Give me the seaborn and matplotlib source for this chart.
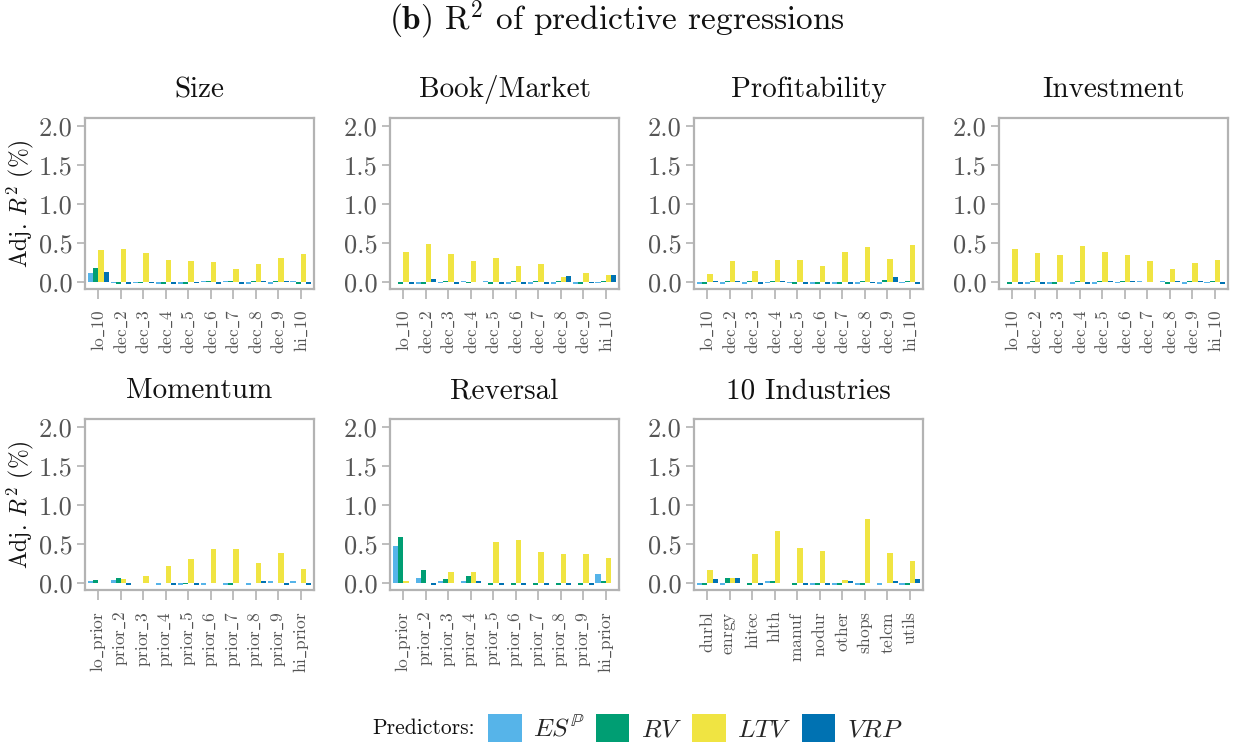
import numpy as np
import pandas as pd
import matplotlib
matplotlib.use("Agg")
import matplotlib.pyplot as plt
from matplotlib.patches import Patch
import seaborn as sns

predictors = ["ES", "RV", "LTV", "VRP"]
pred_labels = [r"$ES^{\mathbb{P}}$", r"$RV$", r"$LTV$", r"$VRP$"]
colors = ["#56B4E9", "#009E73", "#F0E442", "#0072B2"]

deciles = ["lo_10", "dec_2", "dec_3", "dec_4", "dec_5", "dec_6", "dec_7", "dec_8", "dec_9", "hi_10"]
priors = ["lo_prior", "prior_2", "prior_3", "prior_4", "prior_5", "prior_6", "prior_7", "prior_8", "prior_9", "hi_prior"]
industries = ["durbl", "enrgy", "hitec", "hlth", "manuf", "nodur", "other", "shops", "telcm", "utils"]

# Size
size_es  = [0.11, -0.01, -0.01, -0.02, -0.02, 0.01, 0.015, -0.02, -0.02, 0.01]
size_rv  = [0.18, -0.025, -0.01, -0.02, -0.02, 0.01, 0.015, 0.01, 0.01, -0.02]
size_ltv = [0.41, 0.42, 0.37, 0.28, 0.27, 0.25, 0.16, 0.23, 0.31, 0.36]
size_vrp = [0.125, -0.025, -0.01, -0.02, -0.01, -0.02, -0.02, 0.01, 0.01, -0.02]
# Book/Market
bm_es  = [0.005, -0.02, -0.01, 0.015, 0.015, -0.02, -0.02, -0.02, -0.02, -0.01]
bm_rv  = [-0.025, -0.02, 0.01, -0.01, -0.02, 0.01, 0.01, 0.01, -0.025, 0.01]
bm_ltv = [0.39, 0.48, 0.355, 0.265, 0.31, 0.20, 0.23, 0.06, 0.11, 0.085]
bm_vrp = [-0.025, 0.035, -0.025, 0.005, -0.025, -0.025, -0.025, 0.075, -0.01, 0.09]
# Profitability
prof_es  = [-0.02, -0.02, -0.02, -0.01, -0.01, -0.02, -0.02, -0.02, -0.02, -0.01]
prof_rv  = [-0.025, 0.01, 0.01, 0.01, -0.02, -0.02, -0.02, 0.01, 0.02, 0.01]
prof_ltv = [0.10, 0.265, 0.14, 0.28, 0.28, 0.20, 0.38, 0.445, 0.29, 0.47]
prof_vrp = [0.01, 0.01, -0.02, 0.01, -0.02, -0.02, -0.02, -0.01, 0.06, -0.025]
# Investment
inv_es  = [0.005, -0.02, -0.02, -0.02, -0.02, -0.01, 0.01, 0.01, -0.02, -0.01]
inv_rv  = [-0.025, 0.01, -0.025, 0.01, 0.01, 0.01, 0.005, -0.02, 0.01, 0.01]
inv_ltv = [0.42, 0.37, 0.34, 0.46, 0.38, 0.34, 0.265, 0.16, 0.24, 0.28]
inv_vrp = [-0.02, -0.02, 0.005, -0.02, 0.01, 0.01, 0.005, 0.01, 0.01, -0.025]
# Momentum
mom_es  = [0.03, 0.04, 0.005, -0.03, -0.02, -0.03, -0.02, -0.03, 0.03, 0.02]
mom_rv  = [0.04, 0.07, 0.005, 0.005, -0.01, 0.005, -0.03, 0.005, 0.005, 0.005]
mom_ltv = [0.005, 0.055, 0.095, 0.22, 0.31, 0.43, 0.44, 0.26, 0.38, 0.18]
mom_vrp = [0.005, -0.03, 0.005, -0.02, -0.02, 0.005, 0.005, 0.02, -0.02, -0.02]
# Reversal
rev_es  = [0.47, 0.07, 0.02, 0.02, 0.005, 0.005, 0.005, 0.005, 0.005, 0.11]
rev_rv  = [0.59, 0.16, 0.055, 0.095, -0.02, -0.03, -0.02, -0.02, -0.03, 0.03]
rev_ltv = [0.02, 0.005, 0.145, 0.145, 0.52, 0.555, 0.40, 0.365, 0.365, 0.325]
rev_vrp = [0.005, -0.02, 0.005, 0.02, -0.02, -0.02, -0.03, -0.02, -0.02, 0.005]
# 10 Industries
ind_es  = [-0.03, -0.02, 0.005, 0.03, 0.005, -0.02, -0.02, -0.02, -0.03, -0.02]
ind_rv  = [-0.03, 0.07, -0.02, 0.02, -0.02, -0.03, -0.02, -0.02, 0.005, -0.02]
ind_ltv = [0.17, 0.07, 0.375, 0.67, 0.45, 0.41, 0.04, 0.82, 0.39, 0.285]
ind_vrp = [0.055, 0.07, -0.02, 0.005, -0.02, -0.02, 0.02, 0.005, 0.03, 0.055]

panels = [
    ("Size", deciles, [size_es, size_rv, size_ltv, size_vrp]),
    ("Book/Market", deciles, [bm_es, bm_rv, bm_ltv, bm_vrp]),
    ("Profitability", deciles, [prof_es, prof_rv, prof_ltv, prof_vrp]),
    ("Investment", deciles, [inv_es, inv_rv, inv_ltv, inv_vrp]),
    ("Momentum", priors, [mom_es, mom_rv, mom_ltv, mom_vrp]),
    ("Reversal", priors, [rev_es, rev_rv, rev_ltv, rev_vrp]),
    ("10 Industries", industries, [ind_es, ind_rv, ind_ltv, ind_vrp]),
]

sns.set_theme(style="white")
plt.rcParams["font.family"] = ["cmr10", "DejaVu Serif"]
plt.rcParams["mathtext.fontset"] = "cm"
plt.rcParams["axes.unicode_minus"] = False
plt.rcParams["axes.formatter.use_mathtext"] = True

W, H = 1233, 744
fig = plt.figure(figsize=(W / 100, H / 100), dpi=100)

lefts = [85, 390, 694, 999]
tops = [118, 419]
aw, ah = 229, 171
spine_col = "#b3b3b3"
tick_col = "#555555"


def mlabel(s):
    return r"$\mathrm{" + s.replace("_", r"\_") + "}$"


for i, (title, cats, vals) in enumerate(panels):
    r, c = divmod(i, 4)
    ax = fig.add_axes([lefts[c] / W, 1 - (tops[r] + ah) / H, aw / W, ah / H])
    df = pd.DataFrame({
        "cat": [cat for cat in cats for _ in predictors],
        "pred": [p for _ in cats for p in predictors],
        "val": [vals[k][j] for j in range(len(cats)) for k in range(4)],
    })
    sns.barplot(data=df, x="cat", y="val", hue="pred", hue_order=predictors,
                palette=colors, width=0.93, saturation=1, legend=False, ax=ax,
                errorbar=None, linewidth=0, order=cats)
    ax.set_ylim(-0.09, 2.1)
    ax.set_xlim(-0.6, 9.58)
    ax.set_yticks([0.0, 0.5, 1.0, 1.5, 2.0])
    ax.set_yticklabels(["0.0", "0.5", "1.0", "1.5", "2.0"])
    ax.set_xticks(range(len(cats)))
    ax.set_xticklabels([mlabel(s) for s in cats], rotation=90, fontsize=12.5, color=tick_col)
    ax.tick_params(axis="y", left=True, labelsize=19, colors=tick_col, length=6, width=1.2,
                   color=spine_col, pad=3)
    ax.tick_params(axis="x", bottom=True, colors=tick_col, length=7, width=1.2,
                   color=spine_col, pad=8)
    for s in ax.spines.values():
        s.set_color(spine_col)
        s.set_linewidth(1.6)
    ax.set_xlabel("")
    if c == 0:
        ax.set_ylabel(r"Adj. $R^2$ (%)", fontsize=17, color="#111111", labelpad=2)
    else:
        ax.set_ylabel("")
    ax.set_title(title, fontsize=21, color="#111111", pad=15)

fig.text(0.5, 1 - 20 / H, r"$\mathbf{(b)}$ R$^2$ of predictive regressions",
         ha="center", va="center", fontsize=24, color="#111111")

fig.text(372 / W, 1 - 728 / H, "Predictors:", ha="left", va="center", fontsize=15.5, color="#111111")
handles = [Patch(facecolor=col, edgecolor="none") for col in colors]
fig.legend(handles, pred_labels, loc="center left", bbox_to_anchor=(478 / W, 1 - 728 / H),
           ncol=4, frameon=False, fontsize=18.5, handlelength=1.3, handleheight=1.3,
           handletextpad=0.45, columnspacing=0.4, borderaxespad=0)

fig.savefig("out.png", dpi=100)
